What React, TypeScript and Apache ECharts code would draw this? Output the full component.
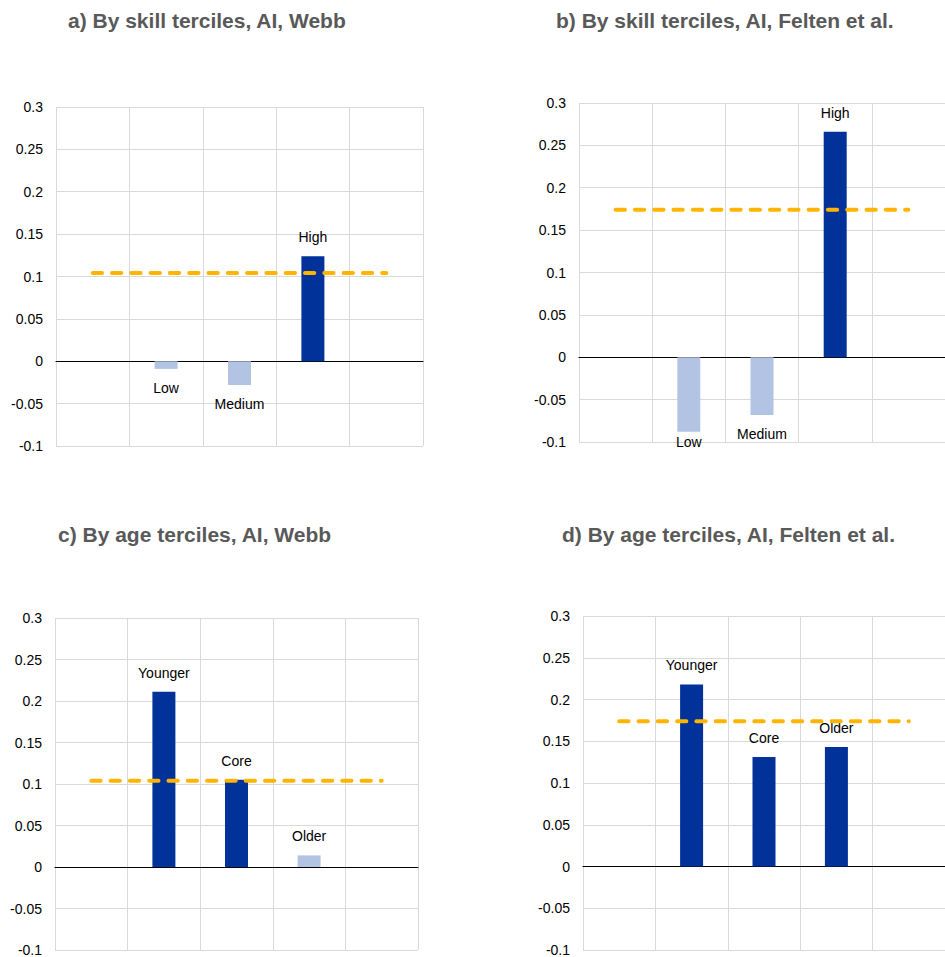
import React, { useEffect, useRef } from "react";
import * as echarts from "echarts";

// ---- Data ----
const skillCategories = ["", "Low", "Medium", "High", " "];
const ageCategories = ["", "Younger", "Core", "Older", " "];

const skillWebbValues = [-0.009, -0.028, 0.124];
const skillWebbSignificant = [false, false, true];
const skillWebbAverage = [0.104, 0.104, 0.104, 0.104, 0.104];

const skillFeltenValues = [-0.088, -0.068, 0.266];
const skillFeltenSignificant = [false, false, true];
const skillFeltenAverage = [0.174, 0.174, 0.174, 0.174, 0.174];

const ageWebbValues = [0.211, 0.105, 0.014];
const ageWebbSignificant = [true, true, false];
const ageWebbAverage = [0.104, 0.104, 0.104, 0.104, 0.104];

const ageFeltenValues = [0.218, 0.131, 0.143];
const ageFeltenSignificant = [true, true, true];
const ageFeltenAverage = [0.174, 0.174, 0.174, 0.174, 0.174];

const titles = [
  "a) By skill terciles, AI, Webb",
  "b) By skill terciles, AI, Felten et al.",
  "c) By age terciles, AI, Webb",
  "d) By age terciles, AI, Felten et al.",
];

const yTicks = { min: -0.1, max: 0.3, interval: 0.05 };

const FONT = "'Liberation Sans', Arial, Helvetica, sans-serif";
const DARK = "#003299";
const LIGHT = "#b3c3e3";
const YELLOW = "#FFB400";

type Panel = {
  title: string;
  titlePos: { left: number; top: number };
  grid: { left: number; top: number; width: number; height: number };
  categories: string[];
  values: number[];
  significant: boolean[];
  average: number[];
  labelDistance: number[];
};

const panels: Panel[] = [
  {
    title: titles[0],
    titlePos: { left: 68, top: 10 },
    grid: { left: 56, top: 107, width: 367, height: 339 },
    categories: skillCategories,
    values: skillWebbValues,
    significant: skillWebbSignificant,
    average: skillWebbAverage,
    labelDistance: [12, 12, 12],
  },
  {
    title: titles[1],
    titlePos: { left: 556, top: 10 },
    grid: { left: 579, top: 103, width: 368, height: 339 },
    categories: skillCategories,
    values: skillFeltenValues,
    significant: skillFeltenSignificant,
    average: skillFeltenAverage,
    labelDistance: [3, 12, 12],
  },
  {
    title: titles[2],
    titlePos: { left: 58, top: 524 },
    grid: { left: 55, top: 618, width: 363, height: 335 },
    categories: ageCategories,
    values: ageWebbValues,
    significant: ageWebbSignificant,
    average: ageWebbAverage,
    labelDistance: [12, 12, 12],
  },
  {
    title: titles[3],
    titlePos: { left: 562, top: 524 },
    grid: { left: 583, top: 616, width: 364, height: 335 },
    categories: ageCategories,
    values: ageFeltenValues,
    significant: ageFeltenSignificant,
    average: ageFeltenAverage,
    labelDistance: [12, 12, 12],
  },
];

function buildOption() {
  const title: any[] = [];
  const grid: any[] = [];
  const xAxis: any[] = [];
  const yAxis: any[] = [];
  const series: any[] = [];

  panels.forEach((p, i) => {
    title.push({
      text: p.title,
      left: p.titlePos.left,
      top: p.titlePos.top,
      padding: 0,
      textStyle: {
        fontFamily: FONT,
        fontSize: 21,
        fontWeight: "bold",
        color: "#595959",
      },
    });
    grid.push({ ...p.grid, containLabel: false });
    xAxis.push({
      type: "category",
      gridIndex: i,
      data: p.categories,
      boundaryGap: true,
      axisLine: { show: true, onZero: true, lineStyle: { color: "#000", width: 1 } },
      axisTick: { show: false },
      axisLabel: { show: false },
      splitLine: { show: true, lineStyle: { color: "#d9d9d9", width: 1 } },
    });
    yAxis.push({
      type: "value",
      gridIndex: i,
      min: yTicks.min,
      max: yTicks.max,
      interval: yTicks.interval,
      axisLine: { show: false },
      axisTick: { show: false },
      axisLabel: {
        margin: 13,
        fontFamily: FONT,
        fontSize: 14,
        color: "#000",
        formatter: (v: number) => String(+v.toFixed(2)),
      },
      splitLine: { show: true, lineStyle: { color: "#d9d9d9", width: 1 } },
    });
    const barData: any[] = ["-"];
    p.values.forEach((v, k) => {
      barData.push({
        value: v,
        itemStyle: { color: p.significant[k] ? DARK : LIGHT },
        label: {
          position: v < 0 ? "bottom" : "top",
          distance: p.labelDistance[k],
        },
      });
    });
    barData.push("-");
    series.push({
      type: "bar",
      xAxisIndex: i,
      yAxisIndex: i,
      data: barData,
      barWidth: 23,
      z: 2,
      label: {
        show: true,
        formatter: "{b}",
        fontFamily: FONT,
        fontSize: 14,
        color: "#000",
      },
    });
    series.push({
      type: "line",
      xAxisIndex: i,
      yAxisIndex: i,
      data: p.average,
      symbol: "none",
      showSymbol: false,
      z: 5,
      lineStyle: {
        color: YELLOW,
        width: 4,
        type: [9.3, 10],
        cap: "round",
      },
    });
  });

  return {
    animation: false,
    backgroundColor: "#fff",
    title,
    grid,
    xAxis,
    yAxis,
    series,
  };
}

export default function App() {
  const ref = useRef<HTMLDivElement>(null);
  useEffect(() => {
    if (!ref.current) return;
    const chart = echarts.init(ref.current, undefined, { renderer: "svg" });
    chart.setOption(buildOption() as any);
    return () => chart.dispose();
  }, []);
  return (
    <div
      ref={ref}
      style={{ position: "fixed", left: 0, top: 0, width: 945, height: 957 }}
    />
  );
}
